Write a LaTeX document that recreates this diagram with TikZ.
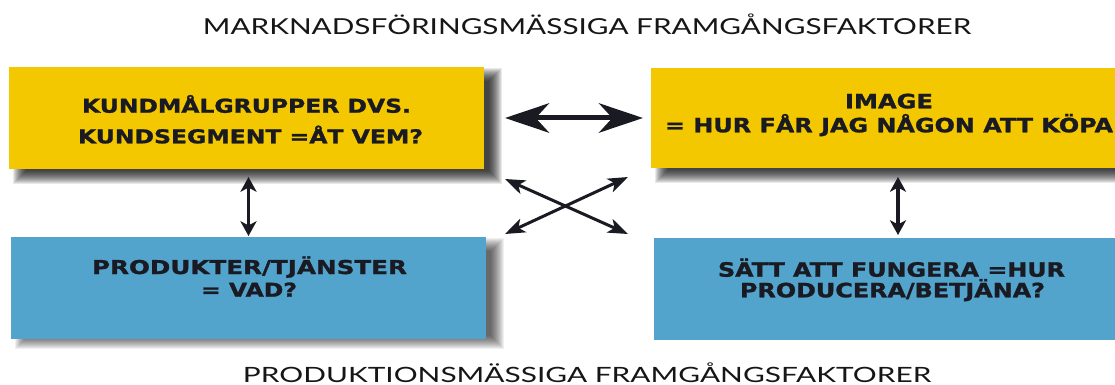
\documentclass[tikz,border=0pt]{standalone}
\usepackage{fontspec}
\usepackage{graphicx}
\usetikzlibrary{arrows.meta,backgrounds,calc}
\newfontfamily\boxfont{DejaVu Sans}[BoldFeatures={FakeBold=1.2}]
\newfontfamily\ttlfont{Lato}
\definecolor{boxyellow}{RGB}{243,200,0}
\definecolor{boxblue}{RGB}{83,164,204}
\definecolor{ink}{RGB}{26,26,34}
\definecolor{ttlink}{RGB}{22,22,22}
\tikzset{
  box/.style={rectangle, inner sep=0pt, outer sep=0pt},
  ybox/.style={box, fill=boxyellow},
  bbox/.style={box, fill=boxblue},
  ltxt/.style={anchor=base, inner sep=0pt, text=ink, font=\boxfont\bfseries\fontsize{14.3}{16}\selectfont},
  rtxt/.style={anchor=base, inner sep=0pt, text=ink, font=\boxfont\bfseries\fontsize{14.8}{17}\selectfont},
  ttl/.style={anchor=base, inner sep=0pt, text=ttlink, font=\ttlfont\fontsize{16.5}{20}\selectfont},
  shade/.style={black, fill opacity=0.085},
  bigarr/.style={draw=ink, line width=3.75pt, arrows={Stealth[length=33pt,width=22pt,inset=10pt]-Stealth[length=33pt,width=22pt,inset=10pt]}},
  xarr/.style={draw=ink, line width=2.25pt, arrows={Stealth[length=15pt,width=11pt,inset=4pt]-Stealth[length=15pt,width=11pt,inset=4pt]}},
  varr/.style={draw=ink, line width=2.4pt, arrows={Stealth[length=11pt,width=12pt,inset=3pt]-Stealth[length=11pt,width=12pt,inset=3pt]}},
}
\begin{document}
\begin{tikzpicture}[x=0.75pt,y=-0.75pt]
  \useasboundingbox (0,0) rectangle (1115,385);
  \clip (0,0) rectangle (1115,385);

  % boxes
  \node[ybox, minimum width=356.25pt, minimum height=76.5pt] (tl) at (246.5,118) {};
  \node[bbox, minimum width=356.25pt, minimum height=76.5pt] (bl) at (248.5,288) {};
  \node[ybox, minimum width=370.5pt, minimum height=75pt] (tr) at (898,118) {};
  \node[bbox, minimum width=366pt, minimum height=76.5pt] (br) at (898,289) {};

  % shadows
  \begin{scope}[on background layer]
    \fill[white] (0,0) rectangle (1115,385);
    \foreach \n in {tl,tr} {
      \foreach \i in {-6,...,7} {
        \fill[shade]
          ($(\n.north west)+(11-\i,8-\i)$) rectangle ($(\n.south east)+(11+\i,8+\i)$);
      }
    }
    \foreach \i in {-6,...,7} {
      \fill[shade, fill opacity=0.06]
        ($(bl.north west)+(11-\i,8-\i)$) rectangle ($(bl.south east)+(11+\i,3+\i)$);
    }
  \end{scope}

  % box texts
  \node[ltxt] (tl1) at (246.5,112.7) {\resizebox{246.75pt}{\height}{KUNDMÅLGRUPPER DVS.}};
  \node[ltxt] (tl2) at (250.5,143.3) {\resizebox{258.75pt}{\height}{KUNDSEGMENT =ÅT VEM?}};
  \node[ltxt] (bl1) at (249.5,274) {\resizebox{236.25pt}{\height}{PRODUKTER/TJÄNSTER}};
  \node[ltxt] (bl2) at (249,296.7) {\resizebox{72pt}{\height}{= VAD?}};
  \node[rtxt] (tr1) at (889,108.3) {\resizebox{66pt}{\height}{IMAGE}};
  \node[rtxt] (tr2) at (889,132.3) {\resizebox{336pt}{\height}{= HUR FÅR JAG NÅGON ATT KÖPA}};
  \node[rtxt] (br1) at (891.5,276.7) {\resizebox{260.25pt}{\height}{SÄTT ATT FUNGERA =HUR}};
  \node[rtxt] (br2) at (892.5,297.3) {\resizebox{228.75pt}{\height}{PRODUCERA/BETJÄNA?}};

  % titles
  \node[ttl] (ttop) at (587,34.3) {\resizebox{576pt}{\height}{MARKNADSFÖRINGSMÄSSIGA FRAMGÅNGSFAKTORER}};
  \node[ttl, font=\ttlfont\fontsize{15.8}{19}\selectfont] (tbot) at (587,382.3) {\resizebox{516pt}{\height}{PRODUKTIONSMÄSSIGA FRAMGÅNGSFAKTORER}};

  % connectors
  \draw[bigarr, shorten <=15.75pt, shorten >=6pt] (tl.east) -- (tr.west);
  \draw[varr, shorten <=6pt, shorten >=0.75pt] (tl.south -| bl.north) -- (bl.north);
  \draw[varr, shorten <=6.75pt, shorten >=2.25pt] (tr.south) -- (br.north);
  \coordinate (xa) at (505,179);
  \coordinate (xb) at (628,234);
  \coordinate (xc) at (505,234);
  \coordinate (xd) at (628,177);
  \draw[xarr] (xa) -- (xb);
  \draw[xarr] (xc) -- (xd);
\end{tikzpicture}
\end{document}
